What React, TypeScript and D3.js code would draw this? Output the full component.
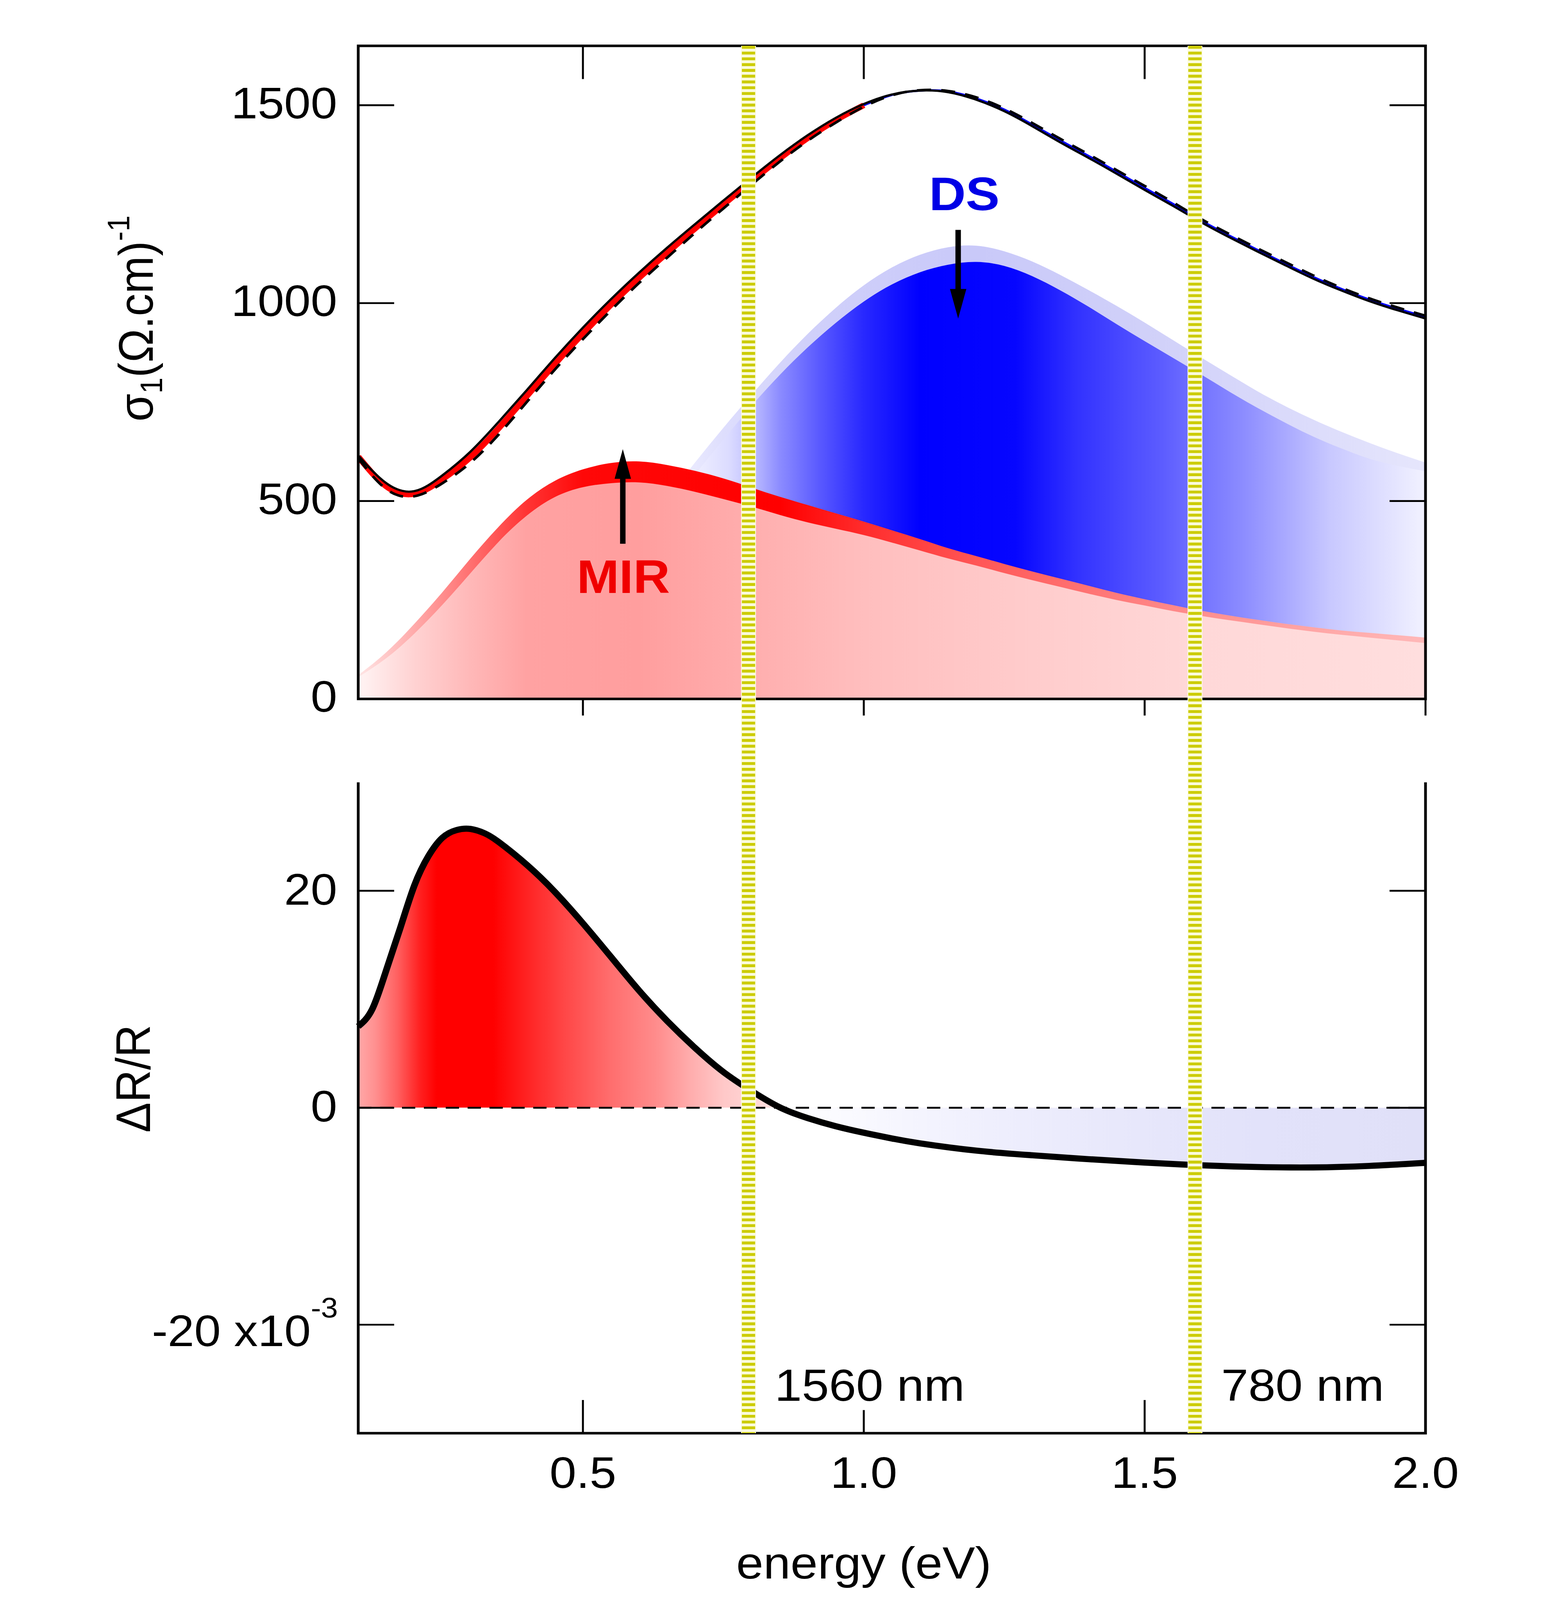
import * as d3 from 'd3'
import React from 'react'

// energy grid (eV) for the optical conductivity panel
const energy = [
    0.1, 0.15, 0.2, 0.25, 0.3, 0.35, 0.4, 0.45, 0.5, 0.55, 0.6, 0.65, 0.7, 0.75, 0.8, 0.85, 0.9, 0.95, 1.0,
    1.05, 1.1, 1.15, 1.2, 1.25, 1.3, 1.35, 1.4, 1.45, 1.5, 1.55, 1.6, 1.65, 1.7, 1.75, 1.8, 1.85, 1.9, 1.95, 2.0,
]
const sigmaSolid = [
    615, 545, 525, 565, 625, 700, 780, 861, 938, 1010, 1077, 1140, 1200, 1259, 1317, 1373, 1424, 1468, 1503,
    1527, 1537, 1533, 1514, 1485, 1447, 1406, 1367, 1327, 1286, 1246, 1205, 1167, 1131, 1096, 1062, 1032, 1005, 982, 961,
]
const sigmaDashed = [
    608, 530, 512, 545, 597, 668, 750, 832, 909, 982, 1051, 1115, 1178, 1239, 1299, 1357, 1410, 1456, 1496,
    1525, 1538, 1536, 1520, 1492, 1455, 1415, 1376, 1336, 1296, 1255, 1213, 1175, 1139, 1104, 1070, 1039, 1012, 989, 968,
]
// red trace (0.10 - 1.00 eV) and blue trace (1.00 - 2.00 eV)
const sigmaRed = [612, 537, 518, 555, 611, 684, 765, 846, 923, 996, 1064, 1127, 1189, 1249, 1308, 1365, 1417, 1462, 1500]
const sigmaBlue = [1500, 1526, 1537, 1535, 1517, 1489, 1451, 1411, 1372, 1332, 1291, 1251, 1209, 1171, 1135, 1100, 1066, 1036, 1009, 986, 965]

// MIR and DS oscillators, after (outer) and before (inner)
const mirOuter = [
    60, 118, 190, 270, 355, 435, 503, 551, 580, 596, 600, 591, 576, 557, 534, 511, 490, 469, 448,
    426, 404, 381, 361, 341, 322, 304, 286, 268, 252, 237, 223, 211, 200, 190, 181, 173, 167, 161, 155,
]
const mirInner = [
    55, 103, 165, 238, 318, 397, 463, 510, 535, 545, 547, 538, 523, 505, 486, 465, 446, 430, 414,
    395, 375, 355, 337, 318, 300, 283, 266, 250, 236, 222, 210, 199, 189, 179, 170, 162, 155, 148, 141,
]
const dsOuter = [
    10, 22, 40, 62, 90, 125, 170, 222, 285, 355, 430, 510, 598, 685, 768, 848, 922, 988, 1045,
    1090, 1122, 1141, 1145, 1131, 1105, 1071, 1033, 993, 951, 907, 863, 820, 778, 740, 706, 675, 647, 621, 597,
]
const dsInner = [
    8, 18, 34, 54, 80, 112, 154, 204, 262, 328, 400, 480, 568, 655, 740, 818, 888, 950, 1004,
    1047, 1078, 1097, 1104, 1094, 1068, 1032, 991, 947, 904, 862, 820, 777, 736, 698, 663, 633, 607, 589, 575,
]

// differential reflectivity (x10^-3)
const energyDR = [
    0.1, 0.125, 0.15, 0.175, 0.2, 0.225, 0.25, 0.275, 0.3, 0.325, 0.35, 0.4, 0.45, 0.5, 0.55, 0.6, 0.65,
    0.7, 0.75, 0.8, 0.85, 0.9, 0.95, 1.0, 1.05, 1.1, 1.2, 1.3, 1.4, 1.5, 1.6, 1.7, 1.8, 1.9, 2.0,
]
const deltaR = [
    7.5, 9.1, 12.7, 16.6, 20.5, 23.2, 24.9, 25.6, 25.7, 25.3, 24.5, 22.4, 19.9, 17.0, 13.9, 10.8, 8.0,
    5.5, 3.3, 1.55, 0.05, -0.95, -1.7, -2.3, -2.83, -3.28, -3.95, -4.38, -4.74, -5.05, -5.3, -5.46, -5.5, -5.36, -5.08,
]

// laser lines (eV) and their labels
const laserEnergy = [0.7948, 1.5896]
const laserLabels = ['1560 nm', '780 nm']

const xTicks = [0.5, 1.0, 1.5, 2.0]
const xTickLabels = ['0.5', '1.0', '1.5', '2.0']
const yTopTicks = [0, 500, 1000, 1500]
const yBotTicks = [-20, 0, 20]

// annotation arrows: energy, tail value, tip value
const mirArrow = { e: 0.571, from: 392, to: 631 }
const dsArrow = { e: 1.168, from: 1185, to: 961 }

// horizontal colour ramps (energy, colour)
const mirOuterStops: [number, string][] = [
    [0.1, '#ffe6e6'], [0.2, '#ffaaaa'], [0.3, '#ff7070'], [0.4, '#ff3434'], [0.5, '#ff0808'], [0.85, '#ff0000'],
    [1.0, '#ff2c2c'], [1.2, '#ff5656'], [1.5, '#ff8282'], [1.8, '#ffa6a6'], [2.0, '#ffb8b8'],
]
const mirInnerStops: [number, string][] = [
    [0.1, '#fff4f4'], [0.2, '#ffd2d2'], [0.3, '#ffb8b8'], [0.4, '#ffa2a2'], [0.6, '#ff9e9e'], [0.8, '#ffaeae'],
    [1.0, '#ffbebe'], [1.3, '#ffcccc'], [1.6, '#ffd8d8'], [2.0, '#ffdede'],
]
const dsOuterStops: [number, string][] = [
    [0.65, '#f2f2ff'], [0.75, '#dedefd'], [0.9, '#d0d0fa'], [1.2, '#c9c9f9'], [1.5, '#d0d0f9'], [1.8, '#dcdcfb'], [2.0, '#e6e6fc'],
]
const dsInnerStops: [number, string][] = [
    [0.68, '#f4f4ff'], [0.76, '#dcdcff'], [0.8, '#c0c0ff'], [0.85, '#8c8cff'], [0.92, '#5a5aff'], [1.0, '#2828ff'],
    [1.1, '#0000ff'], [1.27, '#0606ff'], [1.38, '#3232ff'], [1.53, '#5c5cff'], [1.68, '#8e8eff'], [1.83, '#c8c8ff'], [2.0, '#f2f2ff'],
]
const drPosStops: [number, string][] = [
    [0.1, '#ffa8a8'], [0.13, '#ff9090'], [0.17, '#ff6060'], [0.21, '#ff2020'], [0.24, '#ff0000'], [0.34, '#ff0000'],
    [0.41, '#ff2828'], [0.47, '#ff4848'], [0.55, '#ff6e6e'], [0.63, '#ff8c8c'], [0.69, '#ffacac'], [0.75, '#ffc8c8'], [0.85, '#ffe0e0'],
]
const drNegStops: [number, string][] = [
    [0.85, '#ffffff'], [0.95, '#fbfbff'], [1.1, '#f4f4fe'], [1.25, '#eeeefd'], [1.45, '#e8e8fb'], [1.7, '#e2e2fa'], [2.0, '#e0e0f8'],
]

const W = 3960
const H = 4432
const X0 = 917
const X1 = 3649
const TOP_Y0 = 127
const TOP_Y1 = 1936
const BOT_Y0 = 2167
const BOT_Y1 = 3970
const FONT = '"Liberation Sans", Arial, Helvetica, sans-serif'

const x = d3.scaleLinear().domain([0.1, 2.0]).range([X0, X1])
const yTop = d3.scaleLinear().domain([0, 1650]).range([TOP_Y1, TOP_Y0])
const yBot = d3.scaleLinear().domain([-30, 30]).range([BOT_Y1, BOT_Y0])

const zip = (xs: number[], ys: number[]): [number, number][] => xs.map((e, i) => [e, ys[i]])

const lineTop = d3
    .line<[number, number]>()
    .x((d) => x(d[0]))
    .y((d) => yTop(d[1]))
    .curve(d3.curveNatural)
const areaTop = d3
    .area<[number, number]>()
    .x((d) => x(d[0]))
    .y0(yTop(0))
    .y1((d) => yTop(d[1]))
    .curve(d3.curveNatural)
const lineBot = d3
    .line<[number, number]>()
    .x((d) => x(d[0]))
    .y((d) => yBot(d[1]))
    .curve(d3.curveNatural)
const areaBot = d3
    .area<[number, number]>()
    .x((d) => x(d[0]))
    .y0(yBot(0))
    .y1((d) => yBot(d[1]))
    .curve(d3.curveNatural)

const Grad = ({ id, stops }: { id: string; stops: [number, string][] }) => (
    <linearGradient id={id} gradientUnits="userSpaceOnUse" x1={X0} x2={X1} y1={0} y2={0}>
        {stops.map(([e, c], i) => (
            <stop key={i} offset={(x(e) - X0) / (X1 - X0)} stopColor={c} />
        ))}
    </linearGradient>
)

const Arrow = ({ e, from, to }: { e: number; from: number; to: number }) => {
    const ax = x(e)
    const y1 = yTop(from)
    const y2 = yTop(to)
    const dir = y2 < y1 ? 1 : -1
    const head = 82
    const half = 21
    return (
        <g>
            <line x1={ax} x2={ax} y1={y1} y2={y2 + dir * head * 0.8} stroke="#000" strokeWidth={14} />
            <path d={`M${ax},${y2} L${ax - half},${y2 + dir * head} L${ax + half},${y2 + dir * head} Z`} fill="#000" />
        </g>
    )
}

const App = () => {
    const tick = 92
    const axisW = 7
    const tickW = 5
    return (
        <svg
            viewBox={`0 0 ${W} ${H}`}
            preserveAspectRatio="none"
            style={{ position: 'fixed', left: 0, top: 0, width: '100vw', height: '100vh', background: '#fff' }}
            fontFamily={FONT}
        >
            <defs>
                <Grad id="mirOuter" stops={mirOuterStops} />
                <Grad id="mirInner" stops={mirInnerStops} />
                <Grad id="dsOuter" stops={dsOuterStops} />
                <Grad id="dsInner" stops={dsInnerStops} />
                <Grad id="drPos" stops={drPosStops} />
                <Grad id="drNeg" stops={drNegStops} />
                <clipPath id="clipTop">
                    <rect x={X0} y={TOP_Y0} width={X1 - X0} height={TOP_Y1 - TOP_Y0} />
                </clipPath>
                <clipPath id="clipPos">
                    <rect x={X0} y={BOT_Y0} width={X1 - X0} height={yBot(0) - BOT_Y0} />
                </clipPath>
                <clipPath id="clipNeg">
                    <rect x={X0} y={yBot(0)} width={X1 - X0} height={BOT_Y1 - yBot(0)} />
                </clipPath>
                <clipPath id="clipBot">
                    <rect x={X0 - 12} y={BOT_Y0} width={X1 - X0 + 12} height={BOT_Y1 - BOT_Y0} />
                </clipPath>
            </defs>

            {/* top panel: oscillators */}
            <g clipPath="url(#clipTop)">
                <path d={areaTop(zip(energy, dsOuter)) ?? ''} fill="url(#dsOuter)" />
                <path d={areaTop(zip(energy, dsInner)) ?? ''} fill="url(#dsInner)" />
                <path d={areaTop(zip(energy, mirOuter)) ?? ''} fill="url(#mirOuter)" />
                <path d={areaTop(zip(energy, mirInner)) ?? ''} fill="url(#mirInner)" />
                <path d={lineTop(zip(energy.slice(0, 19), sigmaRed)) ?? ''} fill="none" stroke="#ff0000" strokeWidth={16} />
                <path d={lineTop(zip(energy.slice(18), sigmaBlue)) ?? ''} fill="none" stroke="#0000ff" strokeWidth={6} />
                <path d={lineTop(zip(energy, sigmaSolid)) ?? ''} fill="none" stroke="#000" strokeWidth={6} />
                <path
                    d={lineTop(zip(energy, sigmaDashed)) ?? ''}
                    fill="none"
                    stroke="#000"
                    strokeWidth={7}
                    strokeDasharray="36 26"
                />
            </g>

            <Arrow {...mirArrow} />
            <Arrow {...dsArrow} />
            <text x={x(0.572)} y={yTop(268)} textAnchor="middle" fontSize={130} fontWeight="bold" fill="#f00000">
                MIR
            </text>
            <text x={x(1.179)} y={yTop(1235)} textAnchor="middle" fontSize={130} fontWeight="bold" fill="#0000e6">
                DS
            </text>

            {/* top panel frame */}
            <g stroke="#000" strokeWidth={axisW} fill="none">
                <rect x={X0} y={TOP_Y0} width={X1 - X0} height={TOP_Y1 - TOP_Y0} />
            </g>
            <g stroke="#000" strokeWidth={tickW}>
                {yTopTicks.slice(1).map((v) => (
                    <g key={v}>
                        <line x1={X0} x2={X0 + tick} y1={yTop(v)} y2={yTop(v)} />
                        <line x1={X1} x2={X1 - tick} y1={yTop(v)} y2={yTop(v)} />
                    </g>
                ))}
                {xTicks.map((v) => (
                    <g key={v}>
                        {v < 2 && <line x1={x(v)} x2={x(v)} y1={TOP_Y0} y2={TOP_Y0 + tick} />}
                        <line x1={x(v)} x2={x(v)} y1={TOP_Y1} y2={TOP_Y1 + 46} />
                    </g>
                ))}
            </g>
            {yTopTicks.map((v) => (
                <text key={v} x={X0 - 54} y={yTop(v) + 36} textAnchor="end" fontSize={122}>
                    {v}
                </text>
            ))}
            <text transform={`translate(391, 882) rotate(-90)`} textAnchor="middle" fontSize={125}>
                σ
                <tspan fontSize={80} dy={24}>
                    1
                </tspan>
                <tspan dy={-24}>(Ω.cm)</tspan>
                <tspan fontSize={80} dy={-60}>
                    -1
                </tspan>
            </text>

            {/* bottom panel: differential reflectivity */}
            <path d={areaBot(zip(energyDR, deltaR)) ?? ''} fill="url(#drPos)" clipPath="url(#clipPos)" />
            <path d={areaBot(zip(energyDR, deltaR)) ?? ''} fill="url(#drNeg)" clipPath="url(#clipNeg)" />
            <line
                x1={X0}
                x2={X1}
                y1={yBot(0)}
                y2={yBot(0)}
                stroke="#000"
                strokeWidth={5}
                strokeDasharray="34 22"
            />
            <path
                d={lineBot(zip(energyDR, deltaR)) ?? ''}
                fill="none"
                stroke="#000"
                strokeWidth={17}
                strokeLinejoin="round"
                clipPath="url(#clipBot)"
            />

            {/* bottom panel frame (open top) */}
            <g stroke="#000" strokeWidth={axisW} fill="none">
                <path d={`M${X0},${BOT_Y0} L${X0},${BOT_Y1} L${X1},${BOT_Y1} L${X1},${BOT_Y0}`} />
            </g>
            <g stroke="#000" strokeWidth={tickW}>
                {yBotTicks.map((v) => (
                    <g key={v}>
                        <line x1={X0} x2={X0 + tick} y1={yBot(v)} y2={yBot(v)} />
                        <line x1={X1} x2={X1 - tick} y1={yBot(v)} y2={yBot(v)} />
                    </g>
                ))}
                {xTicks.slice(0, 3).map((v) => (
                    <line key={v} x1={x(v)} x2={x(v)} y1={BOT_Y1} y2={BOT_Y1 - tick} />
                ))}
            </g>
            {yBotTicks.map((v) =>
                v === -20 ? (
                    <text key={v} x={865} y={yBot(v) + 59} textAnchor="end" fontSize={122}>
                        -20 x10
                        <tspan fontSize={78} dy={-79}>
                            -3
                        </tspan>
                    </text>
                ) : (
                    <text key={v} x={X0 - 54} y={yBot(v) + 38} textAnchor="end" fontSize={122}>
                        {v}
                    </text>
                ),
            )}
            <text transform={`translate(384, 2988) rotate(-90)`} textAnchor="middle" fontSize={125}>
                ΔR/R
            </text>

            {/* laser wavelength labels with opaque boxes */}
            {laserEnergy.map((e, i) => {
                const tx = x(e) + 67
                const ty = yBot(-27)
                return (
                    <g key={e}>
                        <rect x={tx - 12} y={ty - 108} width={laserLabels[i].length * 64 + 30} height={134} fill="#fff" />
                        <text x={tx} y={ty} fontSize={125}>
                            {laserLabels[i]}
                        </text>
                    </g>
                )
            })}

            {/* laser lines */}
            {laserEnergy.map((e) => (
                <g key={e}>
                    <line x1={x(e)} x2={x(e)} y1={TOP_Y0} y2={BOT_Y1} stroke="#fbfbdc" strokeWidth={38} />
                    <line
                        x1={x(e)}
                        x2={x(e)}
                        y1={TOP_Y0}
                        y2={BOT_Y1}
                        stroke="#cccc00"
                        strokeWidth={34}
                        strokeDasharray="8 8"
                    />
                </g>
            ))}

            {/* x axis */}
            {xTicks.map((v, i) => (
                <text key={v} x={x(v)} y={4122} textAnchor="middle" fontSize={123}>
                    {xTickLabels[i]}
                </text>
            ))}
            <text x={x(1.0)} y={4372} textAnchor="middle" fontSize={125}>
                energy (eV)
            </text>
        </svg>
    )
}

export default App
